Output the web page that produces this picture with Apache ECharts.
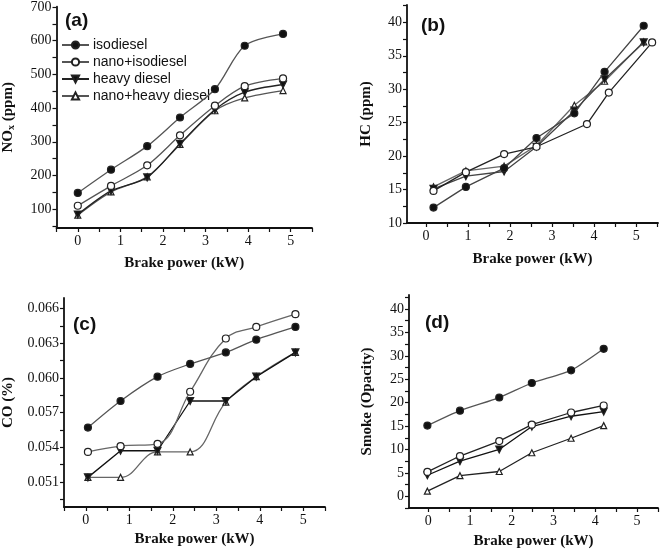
<!DOCTYPE html>
<html>
<head>
<meta charset="utf-8">
<script src="https://cdn.jsdelivr.net/npm/echarts@6/dist/echarts.min.js"></script>
<style>html,body{margin:0;padding:0;background:#fff}#c{width:661px;height:553px}</style>
</head>
<body>
<div id="c"></div>
<script>
// ---- Data ----
const seriesNames = ['isodiesel', 'nano+isodiesel', 'heavy diesel', 'nano+heavy diesel'];

// (a) NOx
const powerA = [0, 0.78, 1.63, 2.4, 3.22, 3.92, 4.82];
const noxIso = [148, 217, 287, 372, 456, 585, 620];
const noxNanoIso = [110, 169, 230, 319, 407, 465, 488];
const noxHeavy = [84, 154, 194, 294, 395, 447, 470];
const noxNanoHeavy = [82, 151, 196, 292, 392, 430, 452];

// (b) HC
const powerB = [0.18, 0.95, 1.86, 2.63, 3.53, 4.25, 5.18];
const powerBNanoIso = [0.18, 0.95, 1.86, 2.63, 3.83, 4.35, 5.38];
const hcIso = [12.3, 15.4, 18.2, 22.7, 26.4, 32.6, 39.5];
const hcNanoIso = [14.8, 17.6, 20.3, 21.4, 24.8, 29.5, 37.0];
const hcHeavy = [15.1, 17.0, 17.7, 21.4, 26.8, 31.5, 37.0];
const hcNanoHeavy = [15.4, 17.8, 18.5, 21.6, 27.6, 31.2, 37.1];

// (c) CO
const powerC = [0.05, 0.8, 1.65, 2.4, 3.22, 3.92, 4.82];
const coIso = [0.0557, 0.0580, 0.0601, 0.0612, 0.0622, 0.0633, 0.0644];
const coNanoIso = [0.0536, 0.0541, 0.0543, 0.0588, 0.0634, 0.0644, 0.0655];
const coHeavy = [0.0514, 0.0537, 0.0537, 0.0580, 0.0580, 0.0601, 0.0622];
const coNanoHeavy = [0.0514, 0.0514, 0.0536, 0.0536, 0.0579, 0.0601, 0.0622];

// (d) Smoke
const powerD = [-0.02, 0.76, 1.7, 2.48, 3.42, 4.2];
const smokeIso = [15.1, 18.3, 21.1, 24.2, 26.9, 31.5];
const smokeNanoIso = [5.2, 8.6, 11.8, 15.3, 17.9, 19.4];
const smokeHeavy = [4.5, 7.5, 10.0, 14.9, 17.1, 18.1];
const smokeNanoHeavy = [1.1, 4.4, 5.3, 9.3, 12.4, 15.1];

// ---- Tick labels ----
const xLabels = [0, 1, 2, 3, 4, 5];
const xTicks = [-0.5, 0, 0.5, 1, 1.5, 2, 2.5, 3, 3.5, 4, 4.5, 5, 5.5];
const xTicksB = [0, 0.5, 1, 1.5, 2, 2.5, 3, 3.5, 4, 4.5, 5, 5.5];
const yLabelsA = [100, 200, 300, 400, 500, 600, 700];
const yTicksA = [50, 100, 150, 200, 250, 300, 350, 400, 450, 500, 550, 600, 650, 700];
const yLabelsB = [10, 15, 20, 25, 30, 35, 40];
const yTicksB = [10, 12.5, 15, 17.5, 20, 22.5, 25, 27.5, 30, 32.5, 35, 37.5, 40, 42.5];
const yLabelsC = [0.051, 0.054, 0.057, 0.060, 0.063, 0.066];
const yTicksC = [0.0495, 0.051, 0.0525, 0.054, 0.0555, 0.057, 0.0585, 0.060, 0.0615, 0.063, 0.0645, 0.066];
const yLabelsD = [0, 5, 10, 15, 20, 25, 30, 35, 40];
const yTicksD = [-2.5, 0, 2.5, 5, 7.5, 10, 12.5, 15, 17.5, 20, 22.5, 25, 27.5, 30, 32.5, 35, 37.5, 40, 42.5];

// ---- Styling helpers ----
const serif = 'Liberation Serif';
const symbolStyles = [
  {symbol: 'circle', rotate: 0, fill: '#111', size: 7},
  {symbol: 'circle', rotate: 0, fill: '#fff', size: 7},
  {symbol: 'triangle', rotate: 180, fill: '#111', size: 7},
  {symbol: 'triangle', rotate: 0, fill: '#fff', size: 6}
];
function mk(idx, xs, ys, g, color, smooth) {
  const s = symbolStyles[idx];
  return {
    name: seriesNames[idx], type: 'line', xAxisIndex: g, yAxisIndex: g,
    data: xs.map((x, i) => [x, ys[i]]),
    symbol: s.symbol, symbolRotate: s.rotate, symbolSize: s.size,
    smooth: smooth || false,
    lineStyle: {color: color, width: 1.3},
    itemStyle: {color: s.fill, borderColor: '#222', borderWidth: 1.2},
    emphasis: {disabled: true}, z: 3 + (3 - idx)
  };
}
function xAxis(g, min, max, ticks, nameGap) {
  return {
    type: 'value', gridIndex: g, min: min, max: max,
    name: 'Brake power (kW)', nameLocation: 'middle', nameGap: nameGap,
    nameTextStyle: {fontFamily: serif, fontWeight: 'bold', fontSize: 15, color: '#111'},
    axisLine: {onZero: false, lineStyle: {color: '#111', width: 1.8}},
    axisTick: {show: true, length: 4, customValues: ticks, lineStyle: {color: '#111', width: 1.2}},
    axisLabel: {customValues: xLabels, fontFamily: serif, fontSize: 14, color: '#111', margin: 6},
    splitLine: {show: false}
  };
}
function yAxis(g, min, max, ticks, labels, name, nameGap, fmt) {
  return {
    type: 'value', gridIndex: g, min: min, max: max,
    name: name, nameLocation: 'middle', nameGap: nameGap, nameRotate: 90,
    nameTextStyle: {fontFamily: serif, fontWeight: 'bold', fontSize: 15, color: '#111',
      rich: {a: {fontFamily: serif, fontWeight: 'bold', fontSize: 15, color: '#111'},
             s: {fontFamily: serif, fontWeight: 'bold', fontSize: 10, color: '#111', verticalAlign: 'bottom', padding: [6, 0, 0, 0]}}},
    axisLine: {onZero: false, lineStyle: {color: '#111', width: 1.8}},
    axisTick: {show: true, length: 4, customValues: ticks, lineStyle: {color: '#111', width: 1.2}},
    axisLabel: {customValues: labels, fontFamily: serif, fontSize: 14, color: '#111', margin: 5,
      formatter: fmt || (v => String(v))},
    splitLine: {show: false}
  };
}

const chart = echarts.init(document.getElementById('c'), null, {renderer: 'canvas'});
const dark = '#444';
chart.setOption({
  animation: false,
  backgroundColor: '#fff',
  title: [
    {text: '(a)', left: 60, top: 6},
    {text: '(b)', left: 416, top: 11},
    {text: '(c)', left: 68, top: 310},
    {text: '(d)', left: 420, top: 308}
  ].map(t => Object.assign(t, {textStyle: {fontFamily: 'Liberation Sans', fontWeight: 'bold', fontSize: 19, color: '#111'}})),
  legend: {
    data: seriesNames, orient: 'vertical', left: 56, top: 33,
    itemWidth: 27, itemHeight: 9, itemGap: 3,
    textStyle: {fontFamily: 'Liberation Sans', fontSize: 14, color: '#111', padding: [0, 0, 0, -1]},
    selectedMode: false
  },
  grid: [
    {left: 54, right: 349, top: 5, bottom: 325},
    {left: 407, right: 3, top: 5, bottom: 330},
    {left: 60, right: 336, top: 298, bottom: 46},
    {left: 409, right: 3, top: 295, bottom: 45}
  ],
  xAxis: [
    xAxis(0, -0.5, 5.5, xTicks, 28),
    xAxis(1, -0.45, 5.52, xTicksB, 29),
    xAxis(2, -0.5, 5.5, xTicks, 25),
    xAxis(3, -0.46, 5.5, xTicks, 26)
  ],
  yAxis: [
    yAxis(0, 44, 701, yTicksA, yLabelsA, '{a|NO}{s|x}{a| (ppm)}', 40),
    yAxis(1, 10, 42.6, yTicksB, yLabelsB, 'HC (ppm)', 33),
    yAxis(2, 0.04884, 0.0669, yTicksC, yLabelsC, 'CO (%)', 48, v => v.toFixed(3)),
    yAxis(3, -2.5, 43, yTicksD, yLabelsD, 'Smoke (Opacity)', 34)
  ],
  series: [
    mk(0, powerA, noxIso, 0, '#555', 0.3),
    mk(1, powerA, noxNanoIso, 0, '#555', 0.3),
    mk(2, powerA, noxHeavy, 0, '#222', 0.3),
    mk(3, powerA, noxNanoHeavy, 0, '#555', 0.3),

    mk(0, powerB, hcIso, 1, dark),
    mk(1, powerBNanoIso, hcNanoIso, 1, '#222'),
    mk(2, powerB, hcHeavy, 1, dark),
    mk(3, powerB, hcNanoHeavy, 1, '#666'),

    mk(0, powerC, coIso, 2, '#555', 0.3),
    mk(1, powerC, coNanoIso, 2, '#666', 0.4),
    mk(2, powerC, coHeavy, 2, '#111'),
    mk(3, powerC, coNanoHeavy, 2, '#666', 0.4),

    mk(0, powerD, smokeIso, 3, '#555', 0.2),
    mk(1, powerD, smokeNanoIso, 3, '#222'),
    mk(2, powerD, smokeHeavy, 3, '#111'),
    mk(3, powerD, smokeNanoHeavy, 3, '#222')
  ]
});
</script>
</body>
</html>
